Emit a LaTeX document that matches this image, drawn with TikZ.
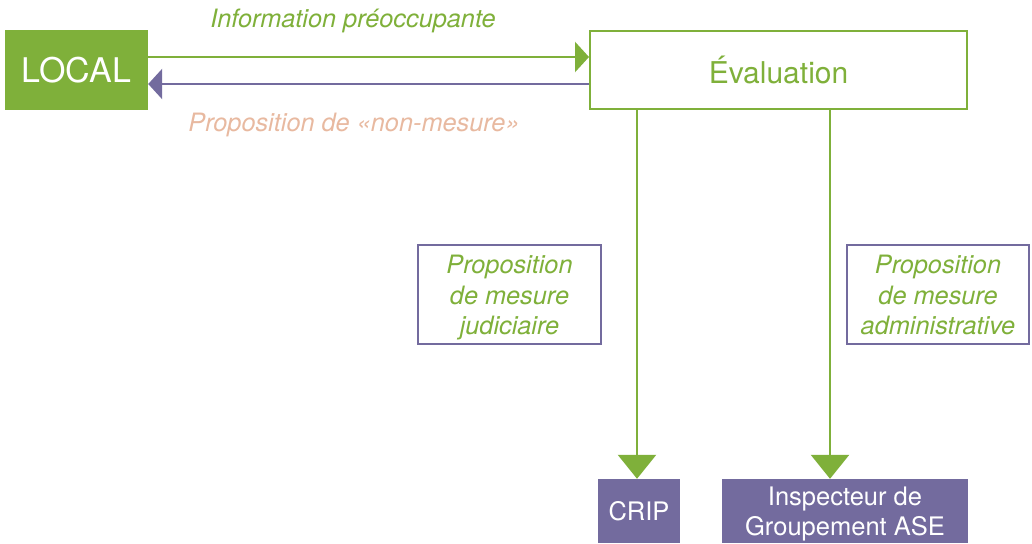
\documentclass[tikz,border=0pt]{standalone}
\usepackage{fontspec}
\setmainfont{TeX Gyre Heros}
\usetikzlibrary{arrows.meta}
\definecolor{leaf}{HTML}{7FB03A}
\definecolor{plum}{HTML}{736B9E}
\definecolor{peach}{HTML}{E8B9A0}
% invisible struts that even out the height and depth of multi-line blocks
\newcommand{\topstrut}{\rule{0pt}{25pt}}
\newcommand{\botstrut}{\rule[-6pt]{0pt}{6pt}}
\tikzset{
  solidgreen/.style={fill=leaf, text=white, inner sep=0pt, font=\fontsize{34}{38}\selectfont},
  framedgreen/.style={draw=leaf, line width=2pt, fill=white, text=leaf, inner sep=0pt, font=\fontsize{30}{34}\selectfont},
  solidplum/.style={fill=plum, text=white, inner sep=0pt, align=center, font=\fontsize{25.5}{30}\selectfont},
  notebox/.style={draw=plum, line width=1.1pt, text=leaf, inner sep=0pt, align=center, font=\fontsize{25.3}{30.5}\selectfont\itshape},
  flowlabel/.style={inner sep=0pt, font=\fontsize{25.3}{28}\selectfont\itshape},
  hflow/.style={line width=2.6pt, -{Triangle[length=14pt,width=30pt]}},
  vflow/.style={draw=leaf, line width=2.6pt, -{Triangle[length=24pt,width=38pt]}}
}
\begin{document}
\begin{tikzpicture}[x=1pt, y=-1pt]
\useasboundingbox (0,0) rectangle (1032,543);

% main boxes
\node[solidgreen, minimum width=143pt, minimum height=80pt] (local) at (76.5,70) {LOCAL};
\node[framedgreen, minimum width=377pt, minimum height=78pt] (eval) at (778.5,70) {Évaluation};

% recipients
\node[solidplum, minimum width=82pt, minimum height=64pt] (crip) at (639,511) {CRIP};
\node[solidplum, minimum width=246pt, minimum height=64pt] (iga) at (845,511) {\topstrut Inspecteur de\\Groupement ASE};

% notes beside the vertical flows
\node[notebox, minimum width=183pt, minimum height=99pt] (judic) at (509.5,294.5) {\topstrut Proposition\\de mesure\\judiciaire\botstrut};
\node[notebox, minimum width=182pt, minimum height=99pt] (admin) at (938,294.5) {\topstrut Proposition\\de mesure\\administrative\botstrut};

% horizontal exchanges
\draw[hflow, leaf] ([yshift=13pt]local.east) -- ([yshift=13pt]eval.west);
\draw[hflow, plum] ([yshift=-14pt]eval.west) -- ([yshift=-14pt]local.east);
\node[flowlabel, text=leaf] (info) at (353,21) {Information préoccupante};
\node[flowlabel, text=peach] (nonm) at (354,125) {Proposition de «non-mesure»};

% vertical flows
\coordinate (c1) at (637,0);
\coordinate (c2) at (830,0);
\draw[vflow] (eval.south -| c1) -- (crip.north -| c1);
\draw[vflow] (eval.south -| c2) -- (iga.north -| c2);
\end{tikzpicture}
\end{document}
